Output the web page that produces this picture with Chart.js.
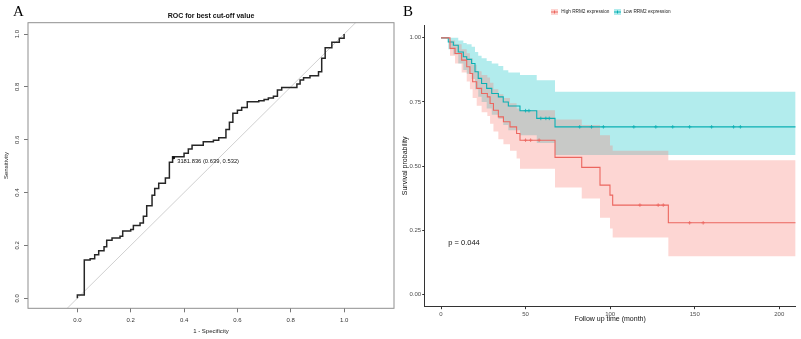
<!DOCTYPE html>
<html>
<head>
<meta charset="utf-8">
<script src="https://cdn.jsdelivr.net/npm/chart.js@4.4.1/dist/chart.umd.min.js"></script>
<style>
  html, body { margin: 0; padding: 0; background: #fff; }
  #wrap { position: relative; width: 801px; height: 339px; overflow: hidden; }
  #rocBox { position: absolute; left: 0; top: 0; width: 400px; height: 339px; }
  #kmBox { position: absolute; left: 400px; top: 0; width: 401px; height: 339px; }
</style>
</head>
<body>
<div id="wrap">
  <div id="rocBox"><canvas id="rocChart"></canvas></div>
  <div id="kmBox"><canvas id="kmChart"></canvas></div>
</div>
<script>
// --- Panel A: ROC ---
const rocFpr = [0, 0, 0.026, 0.026, 0.048, 0.065, 0.08, 0.1, 0.11, 0.13, 0.16, 0.17, 0.2, 0.21, 0.235, 0.2475,
  0.26, 0.28, 0.29, 0.305, 0.33, 0.345, 0.357, 0.40, 0.416, 0.43, 0.472, 0.51, 0.53, 0.557, 0.57, 0.583, 0.6,
  0.616, 0.637, 0.68, 0.7, 0.716, 0.735, 0.75, 0.766, 0.823, 0.835, 0.848, 0.872, 0.904, 0.916, 0.929, 0.954, 0.982, 1.0];
const rocTpr = [0, 0.012, 0.012, 0.145, 0.15, 0.165, 0.18, 0.195, 0.22, 0.228, 0.235, 0.255, 0.26, 0.275, 0.285, 0.31,
  0.35, 0.39, 0.415, 0.435, 0.455, 0.515, 0.536, 0.549, 0.565, 0.579, 0.592, 0.598, 0.608, 0.639, 0.666, 0.7, 0.712,
  0.722, 0.744, 0.748, 0.752, 0.758, 0.765, 0.788, 0.798, 0.811, 0.826, 0.835, 0.842, 0.857, 0.908, 0.948, 0.969, 0.984, 1.0];
const rocTicks = [0, 0.2, 0.4, 0.6, 0.8, 1.0];
const chanceLine = [-0.2, 1.2];
const cutLabel = '3181.836 (0.639, 0.532)';
const cutSpec = 0.639;
const cutSens = 0.532;

// --- Panel B: Kaplan-Meier ---
const groupLabels = ['High RRM2 expression', 'Low RRM2 expression'];
const highTime  = [0, 5.3, 8.3, 12.2, 15.2, 17.1, 18.7, 21.1, 24, 27.4, 29, 31, 33.9, 36.9, 40.8, 44.7, 46.7, 67.4, 83.2, 94, 99.9, 101.5, 134.4, 209.7];
const highSurv  = [1, 0.959, 0.939, 0.913, 0.887, 0.861, 0.829, 0.803, 0.783, 0.77, 0.744, 0.718, 0.692, 0.673, 0.653, 0.627, 0.601, 0.534, 0.495, 0.426, 0.387, 0.348, 0.279, 0.279];
const highUpper = [1, 0.99, 0.975, 0.955, 0.94, 0.92, 0.895, 0.87, 0.855, 0.845, 0.825, 0.8, 0.78, 0.765, 0.745, 0.725, 0.718, 0.682, 0.66, 0.62, 0.58, 0.56, 0.523, 0.523];
const highLower = [1, 0.93, 0.9, 0.865, 0.83, 0.8, 0.765, 0.735, 0.71, 0.695, 0.665, 0.635, 0.605, 0.585, 0.56, 0.53, 0.49, 0.417, 0.374, 0.299, 0.257, 0.222, 0.149, 0.149];
const highCensor = [50, 53, 58, 117.6, 128.4, 131.4, 147, 155];
const lowTime  = [0, 4.3, 7.3, 10.2, 13.2, 15.2, 18.1, 20.1, 22, 24, 27, 30, 33.9, 36.8, 39.8, 46.7, 56.6, 67.4, 209.7];
const lowSurv  = [1, 0.984, 0.971, 0.945, 0.926, 0.916, 0.9, 0.868, 0.842, 0.822, 0.803, 0.783, 0.77, 0.75, 0.734, 0.716, 0.686, 0.653, 0.653];
const lowUpper = [1, 1, 1, 0.99, 0.98, 0.975, 0.965, 0.945, 0.93, 0.92, 0.91, 0.9, 0.89, 0.874, 0.865, 0.855, 0.835, 0.79, 0.79];
const lowLower = [1, 0.955, 0.935, 0.9, 0.875, 0.86, 0.84, 0.8, 0.77, 0.75, 0.725, 0.7, 0.685, 0.66, 0.64, 0.62, 0.59, 0.543, 0.543];
const lowCensor = [50, 52, 59, 62, 64, 82, 89, 96, 114, 127, 137, 147, 160, 173, 177];
const kmXTicks = [0, 50, 100, 150, 200];
const kmYTicks = [0, 0.25, 0.5, 0.75, 1];
const pValueText = 'p = 0.044';

const HIGH = '#EC665F', LOW = '#0AB0B4';
const HIGH_FILL = 'rgba(248,118,109,0.3)', LOW_FILL = 'rgba(0,191,196,0.3)';
const SANS = '"Liberation Sans", Arial, sans-serif';

const toPoints = (xs, ys) => xs.map((x, i) => ({ x: x, y: ys[i] }));
function survAt(times, surv, t) {
  let v = surv[0];
  times.forEach((tt, i) => { if (tt <= t) v = surv[i]; });
  return v;
}

// plugin panel A: frame, rotated y labels, title, cut-off text
const rocDecor = {
  id: 'rocDecor',
  afterDraw(chart) {
    const { ctx, chartArea: a, scales: { x, y } } = chart;
    ctx.save();
    ctx.strokeStyle = '#8f8f8f';
    ctx.lineWidth = 1;
    ctx.strokeRect(a.left, a.top, a.right - a.left, a.bottom - a.top);
    ctx.fillStyle = '#333';
    ctx.font = '6px ' + SANS;
    ctx.textAlign = 'center';
    ctx.textBaseline = 'middle';
    rocTicks.forEach(v => {
      ctx.save();
      ctx.translate(17.5, y.getPixelForValue(v));
      ctx.rotate(-Math.PI / 2);
      ctx.fillText(v.toFixed(1), 0, 0);
      ctx.restore();
    });
    ctx.fillStyle = '#111';
    ctx.font = 'bold 7px ' + SANS;
    ctx.fillText('ROC for best cut-off value', (a.left + a.right) / 2, 16);
    ctx.font = '5.8px ' + SANS;
    ctx.textAlign = 'left';
    ctx.fillText(cutLabel, x.getPixelForValue(1 - cutSpec) + 3.5, y.getPixelForValue(cutSens) + 3.6);
    ctx.fillStyle = '#000';
    ctx.font = '15px "Liberation Serif", serif';
    ctx.textBaseline = 'alphabetic';
    ctx.fillText('A', 13, 16);
    ctx.restore();
  }
};

new Chart(document.getElementById('rocChart'), {
  type: 'scatter',
  data: {
    datasets: [
      { data: toPoints([1 - cutSpec], [cutSens]), pointRadius: 1.5, backgroundColor: '#111', borderWidth: 0 },
      { data: toPoints(rocFpr, rocTpr), showLine: true, stepped: true, borderColor: '#262626', borderWidth: 1.5, pointRadius: 0 },
      { data: toPoints(chanceLine, chanceLine), showLine: true, borderColor: '#c4c4c4', borderWidth: 0.8, pointRadius: 0 }
    ]
  },
  options: {
    responsive: true, maintainAspectRatio: false, animation: false,
    layout: { padding: { left: 0, right: 6, top: 22.7, bottom: 0 } },
    plugins: { legend: { display: false }, tooltip: { enabled: false } },
    scales: {
      x: {
        min: -0.185, max: 1.187,
        afterBuildTicks: s => { s.ticks = rocTicks.map(v => ({ value: v })); },
        afterFit: s => { s.height = 30.7; },
        grid: { drawOnChartArea: false, tickLength: 4, color: '#777' },
        border: { display: false },
        ticks: { font: { size: 6, family: SANS }, color: '#333', padding: 4.5, maxRotation: 0, callback: v => v.toFixed(1) },
        title: { display: true, text: '1 - Specificity', font: { size: 6, family: SANS }, color: '#222', padding: { top: 0, bottom: 4.4 } }
      },
      y: {
        min: -0.038, max: 1.043,
        afterBuildTicks: s => { s.ticks = rocTicks.map(v => ({ value: v })); },
        afterFit: s => { s.width = 28; },
        grid: { drawOnChartArea: false, tickLength: 4, color: '#777' },
        border: { display: false },
        ticks: { display: false },
        title: { display: true, text: 'Sensitivity', font: { size: 6, family: SANS }, color: '#222', padding: { top: 3.2, bottom: 0 } }
      }
    }
  },
  plugins: [rocDecor]
});

// plugin panel B: legend, p value, letter
const kmDecor = {
  id: 'kmDecor',
  afterDraw(chart) {
    const { ctx, scales: { x, y } } = chart;
    ctx.save();
    const keys = [[151, HIGH, HIGH_FILL, 161.2], [214, LOW, LOW_FILL, 223.5]];
    ctx.font = '4.7px ' + SANS;
    ctx.textBaseline = 'middle';
    ctx.textAlign = 'left';
    keys.forEach((k, i) => {
      ctx.fillStyle = k[2];
      ctx.fillRect(k[0], 9, 7, 6);
      ctx.strokeStyle = k[1];
      ctx.lineWidth = 1;
      ctx.beginPath();
      ctx.moveTo(k[0], 12); ctx.lineTo(k[0] + 7, 12);
      ctx.moveTo(k[0] + 3.5, 10.5); ctx.lineTo(k[0] + 3.5, 13.5);
      ctx.stroke();
      ctx.fillStyle = '#222';
      ctx.fillText(groupLabels[i], k[3], 12);
    });
    ctx.font = '7.5px ' + SANS;
    ctx.fillStyle = '#111';
    ctx.fillText(pValueText, x.getPixelForValue(4.3), y.getPixelForValue(0.2));
    ctx.fillStyle = '#000';
    ctx.font = '15px "Liberation Serif", serif';
    ctx.textBaseline = 'alphabetic';
    ctx.fillText('B', 3, 16);
    ctx.restore();
  }
};

const censorStyle = { pointStyle: 'cross', pointRadius: 1.8, borderWidth: 0.8, showLine: false };

new Chart(document.getElementById('kmChart'), {
  type: 'scatter',
  data: {
    datasets: [
      Object.assign({ data: highCensor.map(t => ({ x: t, y: survAt(highTime, highSurv, t) })), borderColor: HIGH }, censorStyle),
      Object.assign({ data: lowCensor.map(t => ({ x: t, y: survAt(lowTime, lowSurv, t) })), borderColor: LOW }, censorStyle),
      { data: toPoints(highTime, highSurv), showLine: true, stepped: true, borderColor: HIGH, borderWidth: 1.1, pointRadius: 0 },
      { data: toPoints(lowTime, lowSurv), showLine: true, stepped: true, borderColor: LOW, borderWidth: 1.1, pointRadius: 0 },
      { data: toPoints(highTime, highUpper), showLine: true, stepped: true, borderWidth: 0, borderColor: 'rgba(0,0,0,0)', pointRadius: 0, fill: '+1', backgroundColor: HIGH_FILL },
      { data: toPoints(highTime, highLower), showLine: true, stepped: true, borderWidth: 0, borderColor: 'rgba(0,0,0,0)', pointRadius: 0, fill: false },
      { data: toPoints(lowTime, lowUpper), showLine: true, stepped: true, borderWidth: 0, borderColor: 'rgba(0,0,0,0)', pointRadius: 0, fill: '+1', backgroundColor: LOW_FILL },
      { data: toPoints(lowTime, lowLower), showLine: true, stepped: true, borderWidth: 0, borderColor: 'rgba(0,0,0,0)', pointRadius: 0, fill: false }
    ]
  },
  options: {
    responsive: true, maintainAspectRatio: false, animation: false,
    layout: { padding: { left: 0, right: 5.3, top: 25, bottom: 0 } },
    plugins: { legend: { display: false }, tooltip: { enabled: false } },
    scales: {
      x: {
        min: -9.64, max: 209.7,
        afterBuildTicks: s => { s.ticks = kmXTicks.map(v => ({ value: v })); },
        afterFit: s => { s.height = 32.3; },
        grid: { drawOnChartArea: false, tickLength: 2.5, color: '#333' },
        border: { display: true, color: '#333', width: 1 },
        ticks: { font: { size: 6, family: SANS }, color: '#4d4d4d', padding: 1.5, maxRotation: 0 },
        title: { display: true, text: 'Follow up time (month)', font: { size: 7, family: SANS }, color: '#111', padding: { top: 0, bottom: 15.5 } }
      },
      y: {
        min: -0.048, max: 1.05,
        afterBuildTicks: s => { s.ticks = kmYTicks.map(v => ({ value: v })); },
        afterFit: s => { s.width = 24.7; },
        grid: { drawOnChartArea: false, tickLength: 2.5, color: '#333' },
        border: { display: true, color: '#333', width: 1 },
        ticks: { font: { size: 6, family: SANS }, color: '#4d4d4d', padding: 1, callback: v => v.toFixed(2) },
        title: { display: true, text: 'Survival probability', font: { size: 7, family: SANS }, color: '#111', padding: { top: 1.3, bottom: 0 } }
      }
    }
  },
  plugins: [kmDecor]
});
</script>
</body>
</html>
